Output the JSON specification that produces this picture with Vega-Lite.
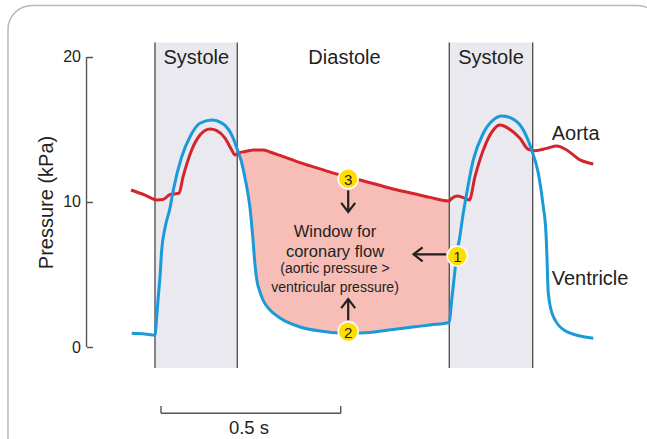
{
  "$schema": "https://vega.github.io/schema/vega-lite/v6.json",
  "width": 647,
  "height": 439,
  "autosize": "none",
  "padding": 0,
  "background": "white",
  "config": {"view": {"stroke": null}, "font": "Liberation Sans"},
  "datasets": {
    "frame": [{"t": -0.425, "t2": 1.39, "p": 23.55, "p2": -9}],
    "bands": [
      {"t": -0.0167, "t2": 0.2119, "p": 21.0, "p2": -1.45},
      {"t": 0.8008, "t2": 1.0325, "p": 21.0, "p2": -1.45}
    ],
    "edges": [
      {"t": -0.0167, "t2": -0.0167, "p": 21.0, "p2": -1.45},
      {"t": 0.2119, "t2": 0.2119, "p": 21.0, "p2": -1.45},
      {"t": 0.8008, "t2": 0.8008, "p": 21.0, "p2": -1.45},
      {"t": 1.0325, "t2": 1.0325, "p": 21.0, "p2": -1.45},
      {"t": -0.2069, "t2": -0.2069, "p": 0, "p2": 20},
      {"t": 0, "t2": 0.4992, "p": -4.57, "p2": -4.57},
      {"t": 0, "t2": 0, "p": -4.57, "p2": -4.07},
      {"t": 0.4992, "t2": 0.4992, "p": -4.57, "p2": -4.07}
    ],
    "window": [
      {"t": 0.2153, "p": 13.38, "p2": 13.38},
      {"t": 0.2194, "p": 13.4, "p2": 13.12},
      {"t": 0.2333, "p": 13.48, "p2": 11.66},
      {"t": 0.2472, "p": 13.55, "p2": 9.59},
      {"t": 0.2556, "p": 13.58, "p2": 7.38},
      {"t": 0.2611, "p": 13.59, "p2": 5.66},
      {"t": 0.2667, "p": 13.59, "p2": 4.55},
      {"t": 0.275, "p": 13.59, "p2": 3.79},
      {"t": 0.2833, "p": 13.59, "p2": 3.24},
      {"t": 0.3028, "p": 13.45, "p2": 2.55},
      {"t": 0.3306, "p": 13.21, "p2": 2.0},
      {"t": 0.3861, "p": 12.72, "p2": 1.38},
      {"t": 0.4417, "p": 12.28, "p2": 1.1},
      {"t": 0.4972, "p": 11.86, "p2": 0.97},
      {"t": 0.5528, "p": 11.52, "p2": 0.97},
      {"t": 0.6444, "p": 10.9, "p2": 1.21},
      {"t": 0.7, "p": 10.59, "p2": 1.38},
      {"t": 0.7472, "p": 10.32, "p2": 1.52},
      {"t": 0.8008, "p": 10.07, "p2": 1.69}
    ],
    "aorta": [
      {"t": -0.0833, "p": 10.83}, {"t": -0.0444, "p": 10.48}, {"t": -0.0111, "p": 10.14},
      {"t": 0.0056, "p": 10.17}, {"t": 0.025, "p": 10.52}, {"t": 0.05, "p": 10.6},
      {"t": 0.0611, "p": 11.72}, {"t": 0.0853, "p": 13.59}, {"t": 0.1083, "p": 14.62},
      {"t": 0.1222, "p": 14.93}, {"t": 0.1361, "p": 15.03}, {"t": 0.1547, "p": 14.92},
      {"t": 0.1778, "p": 14.41}, {"t": 0.1964, "p": 13.59}, {"t": 0.2056, "p": 13.24},
      {"t": 0.2153, "p": 13.38}, {"t": 0.2333, "p": 13.48}, {"t": 0.2472, "p": 13.55},
      {"t": 0.2556, "p": 13.58}, {"t": 0.2833, "p": 13.59}, {"t": 0.3028, "p": 13.45},
      {"t": 0.3306, "p": 13.21}, {"t": 0.3861, "p": 12.72}, {"t": 0.4417, "p": 12.28},
      {"t": 0.4972, "p": 11.86}, {"t": 0.5528, "p": 11.52}, {"t": 0.6444, "p": 10.9},
      {"t": 0.7, "p": 10.59}, {"t": 0.7472, "p": 10.32}, {"t": 0.8008, "p": 10.07},
      {"t": 0.8083, "p": 10.26}, {"t": 0.8222, "p": 10.41}, {"t": 0.8397, "p": 10.3},
      {"t": 0.8564, "p": 10.14}, {"t": 0.8722, "p": 11.75}, {"t": 0.8953, "p": 13.59},
      {"t": 0.9231, "p": 14.97}, {"t": 0.9417, "p": 15.31}, {"t": 0.9647, "p": 15.08},
      {"t": 0.9972, "p": 14.39}, {"t": 1.0203, "p": 13.63}, {"t": 1.0389, "p": 13.54},
      {"t": 1.0714, "p": 13.7}, {"t": 1.0992, "p": 13.86}, {"t": 1.1269, "p": 13.59},
      {"t": 1.1639, "p": 12.9}, {"t": 1.2008, "p": 12.62}
    ],
    "ventricle": [
      {"t": -0.0814, "p": 0.95}, {"t": -0.0444, "p": 0.9}, {"t": -0.0167, "p": 0.83},
      {"t": -0.0119, "p": 2.09}, {"t": -0.0083, "p": 3.24}, {"t": -0.0028, "p": 4.85},
      {"t": 0.0019, "p": 6.69}, {"t": 0.0111, "p": 8.21}, {"t": 0.025, "p": 9.59},
      {"t": 0.0342, "p": 10.83}, {"t": 0.0575, "p": 13.12}, {"t": 0.0806, "p": 14.5},
      {"t": 0.1083, "p": 15.43}, {"t": 0.1408, "p": 15.66}, {"t": 0.1731, "p": 15.38},
      {"t": 0.2008, "p": 14.39}, {"t": 0.2153, "p": 13.38}, {"t": 0.2194, "p": 13.12},
      {"t": 0.2333, "p": 11.66}, {"t": 0.2472, "p": 9.59}, {"t": 0.2556, "p": 7.38},
      {"t": 0.2611, "p": 5.66}, {"t": 0.2667, "p": 4.55}, {"t": 0.275, "p": 3.79},
      {"t": 0.2833, "p": 3.24}, {"t": 0.3028, "p": 2.55}, {"t": 0.3306, "p": 2.0},
      {"t": 0.3861, "p": 1.38}, {"t": 0.4417, "p": 1.1}, {"t": 0.4972, "p": 0.97},
      {"t": 0.5528, "p": 0.97}, {"t": 0.6444, "p": 1.21}, {"t": 0.7, "p": 1.38},
      {"t": 0.7472, "p": 1.52}, {"t": 0.8008, "p": 1.69}, {"t": 0.8075, "p": 3.24},
      {"t": 0.8167, "p": 5.31}, {"t": 0.8231, "p": 6.69}, {"t": 0.8286, "p": 7.38},
      {"t": 0.8381, "p": 8.99}, {"t": 0.8492, "p": 10.6}, {"t": 0.8675, "p": 12.9},
      {"t": 0.8953, "p": 14.74}, {"t": 0.9231, "p": 15.66}, {"t": 0.9464, "p": 15.93},
      {"t": 0.9742, "p": 15.77}, {"t": 1.0064, "p": 14.97}, {"t": 1.0297, "p": 13.59},
      {"t": 1.0481, "p": 11.98}, {"t": 1.0619, "p": 9.68}, {"t": 1.0694, "p": 7.84},
      {"t": 1.0714, "p": 6.69}, {"t": 1.0758, "p": 3.7}, {"t": 1.0897, "p": 2.09},
      {"t": 1.1269, "p": 1.06}, {"t": 1.2008, "p": 0.6}
    ],
    "shafts": [
      {"t": 0.52, "t2": 0.52, "p": 10.8, "p2": 9.4},
      {"t": 0.52, "t2": 0.52, "p": 1.85, "p2": 3.2},
      {"t": 0.7925, "t2": 0.704, "p": 6.39, "p2": 6.39}
    ],
    "heads": [
      {"t": 0.52, "p": 9.31, "dir": "down"},
      {"t": 0.52, "p": 3.31, "dir": "up"},
      {"t": 0.7014, "p": 6.39, "dir": "left"}
    ],
    "markers": [
      {"t": 0.52, "p": 11.6, "n": "3"},
      {"t": 0.52, "p": 1.06, "n": "2"},
      {"t": 0.8231, "p": 6.28, "n": "1"}
    ],
    "phases": [
      {"t": 0.098, "p": 19.55, "label": "Systole"},
      {"t": 0.5097, "p": 19.55, "label": "Diastole"},
      {"t": 0.9167, "p": 19.55, "label": "Systole"}
    ],
    "curves": [
      {"t": 1.0853, "p": 14.28, "label": "Aorta"},
      {"t": 1.0853, "p": 4.28, "label": "Ventricle"}
    ],
    "bigNote": [
      {"t": 0.4833, "p": 7.59, "label": "Window for"},
      {"t": 0.4833, "p": 6.23, "label": "coronary flow"}
    ],
    "smallNote": [
      {"t": 0.4833, "p": 5.08, "label": "(aortic pressure >"},
      {"t": 0.4833, "p": 3.81, "label": "ventricular pressure)"}
    ],
    "scaleText": [{"t": 0.2444, "p": -6.0, "label": "0.5 s"}]
  },
  "encoding": {
    "x": {"field": "t", "type": "quantitative", "scale": {"domain": [-0.44722, 1.35], "nice": false, "zero": false}, "axis": null},
    "y": {
      "field": "p", "type": "quantitative",
      "scale": {"domain": [-6.3448, 23.931], "nice": false, "zero": false},
      "axis": {
        "values": [0, 10, 20], "offset": -86.5, "domain": false, "grid": false,
        "ticks": true, "tickSize": -6, "tickColor": "#555555", "tickWidth": 1.5,
        "labelFont": "Liberation Sans", "labelFontSize": 16, "labelColor": "#231f20", "labelPadding": 12,
        "title": "Pressure (kPa)", "titleFont": "Liberation Sans", "titleFontSize": 20, "titleFontWeight": "normal",
        "titleColor": "#231f20", "titleX": -40.5, "titleY": 202, "titleAngle": 270, "titleBaseline": "middle", "titleAlign": "center"
      }
    }
  },
  "layer": [
    {"data": {"name": "frame"}, "mark": {"type": "rect", "filled": false, "color": "#b8b8b8", "strokeWidth": 1.5, "cornerRadius": 24},
     "encoding": {"x2": {"field": "t2"}, "y2": {"field": "p2"}}},
    {"data": {"name": "bands"}, "mark": {"type": "rect", "color": "#e9e9ef"},
     "encoding": {"x2": {"field": "t2"}, "y2": {"field": "p2"}}},
    {"data": {"name": "window"}, "mark": {"type": "area", "color": "#f7bdb7", "interpolate": "monotone"},
     "encoding": {"y2": {"field": "p2"}}},
    {"data": {"name": "edges"}, "mark": {"type": "rule", "color": "#555555", "strokeWidth": 1.4},
     "encoding": {"x2": {"field": "t2"}, "y2": {"field": "p2"}}},
    {"data": {"name": "aorta"}, "mark": {"type": "line", "color": "#d4252d", "strokeWidth": 3, "interpolate": "monotone"}, "encoding": {}},
    {"data": {"name": "ventricle"}, "mark": {"type": "line", "color": "#1a9ad8", "strokeWidth": 3, "interpolate": "monotone"}, "encoding": {}},
    {"data": {"name": "shafts"}, "mark": {"type": "rule", "color": "#231f20", "strokeWidth": 2.2},
     "encoding": {"x2": {"field": "t2"}, "y2": {"field": "p2"}}},
    {"data": {"name": "heads"}, "transform": [{"filter": "datum.dir == 'down'"}],
     "mark": {"type": "point", "shape": "M-1.3,-1L0,0L-1.3,1", "filled": false, "color": "#231f20", "strokeWidth": 2.2, "size": 196, "opacity": 1, "angle": 90}},
    {"data": {"name": "heads"}, "transform": [{"filter": "datum.dir == 'up'"}],
     "mark": {"type": "point", "shape": "M-1.3,-1L0,0L-1.3,1", "filled": false, "color": "#231f20", "strokeWidth": 2.2, "size": 196, "opacity": 1, "angle": 270}},
    {"data": {"name": "heads"}, "transform": [{"filter": "datum.dir == 'left'"}],
     "mark": {"type": "point", "shape": "M-1.3,-1L0,0L-1.3,1", "filled": false, "color": "#231f20", "strokeWidth": 2.2, "size": 196, "opacity": 1, "angle": 180}},
    {"data": {"name": "markers"}, "mark": {"type": "point", "shape": "circle", "filled": true, "fill": "#ffdd00", "stroke": "white", "strokeWidth": 1.5, "size": 400, "opacity": 1}},
    {"data": {"name": "markers"}, "mark": {"type": "text", "fontSize": 15, "color": "#231f20", "baseline": "middle", "align": "center", "dy": 1},
     "encoding": {"text": {"field": "n"}}},
    {"data": {"name": "phases"}, "mark": {"type": "text", "fontSize": 20, "color": "#231f20", "baseline": "alphabetic", "align": "center"},
     "encoding": {"text": {"field": "label"}}},
    {"data": {"name": "curves"}, "mark": {"type": "text", "fontSize": 20, "color": "#231f20", "baseline": "alphabetic", "align": "left"},
     "encoding": {"text": {"field": "label"}}},
    {"data": {"name": "bigNote"}, "mark": {"type": "text", "fontSize": 16.5, "color": "#231f20", "baseline": "alphabetic", "align": "center"},
     "encoding": {"text": {"field": "label"}}},
    {"data": {"name": "smallNote"}, "mark": {"type": "text", "fontSize": 14, "color": "#231f20", "baseline": "alphabetic", "align": "center"},
     "encoding": {"text": {"field": "label"}}},
    {"data": {"name": "scaleText"}, "mark": {"type": "text", "fontSize": 18.5, "color": "#231f20", "baseline": "alphabetic", "align": "center"},
     "encoding": {"text": {"field": "label"}}}
  ]
}
